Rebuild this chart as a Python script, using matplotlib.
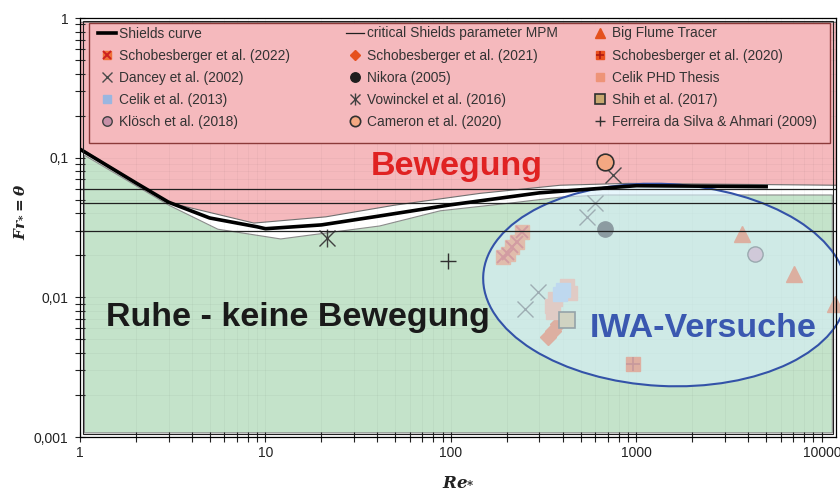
import numpy as np
import matplotlib
matplotlib.use("Agg")
import matplotlib.pyplot as plt
from matplotlib.patches import Ellipse, Rectangle
from matplotlib.legend import Legend
from matplotlib.ticker import LogLocator, NullFormatter

plt.rcParams['font.family'] = ['Liberation Sans', 'DejaVu Sans']
plt.rcParams['mathtext.fontset'] = 'custom'
plt.rcParams['mathtext.it'] = 'DejaVu Serif:italic:bold'
plt.rcParams['mathtext.rm'] = 'DejaVu Serif:bold'
plt.rcParams['mathtext.bf'] = 'DejaVu Serif:italic:bold'

# ---- Shields curve ----
shields_re = [1, 2, 3, 5, 9, 10, 20, 40, 100, 300, 1000, 5000]
shields_theta = [0.115, 0.066, 0.048, 0.037, 0.032, 0.031, 0.033, 0.038, 0.046, 0.056, 0.063, 0.062]

# ---- boundaries of the motion / rest zones ----
motion_re = [1.0, 3, 8.6, 21, 49, 143, 386, 900, 11900]
motion_theta = [0.118, 0.048, 0.0343, 0.038, 0.046, 0.056, 0.064, 0.066, 0.064]
motion_top = 0.94
rest_re = [1.05, 3, 5.5, 12, 41, 87, 216, 386, 650, 11300]
rest_theta = [0.105, 0.046, 0.031, 0.0264, 0.0327, 0.042, 0.048, 0.0526, 0.0545, 0.0545]
rest_bottom = 0.00108

# ---- constant critical values ----
theta_mpm = 0.047
theta_upper = 0.06
theta_lower = 0.03

# ---- measurements ----
bigflume_re = [3700, 7050, 11700]
bigflume_theta = [0.0282, 0.0146, 0.0089]
schob2022_re = [241, 227, 214, 202, 190]
schob2022_theta = [0.0296, 0.0251, 0.0228, 0.0203, 0.0194]
schob2021_re = [333, 355, 377]
schob2021_theta = [0.00518, 0.00572, 0.00641]
schob2020_re = [957]
schob2020_theta = [0.00332]
dancey_re = [747, 598, 541, 294, 250]
dancey_theta = [0.0756, 0.0477, 0.0379, 0.01086, 0.0082]
nikora_re = [677]
nikora_theta = [0.0306]
celikphd_re = [422, 438, 364, 350, 355]
celikphd_theta = [0.0120, 0.0107, 0.00968, 0.00863, 0.00781]
celik2013_re = [387, 400]
celik2013_theta = [0.0105, 0.0112]
vowinckel_re = [21.5]
vowinckel_theta = [0.0268]
shih_re = [422]
shih_theta = [0.00685]
kloesch_re = [4355]
kloesch_theta = [0.0203]
cameron_re = [677]
cameron_theta = [0.0937]
ferreira_re = [96.4]
ferreira_theta = [0.0181]

x_ticks = [1, 10, 100, 1000, 10000]
x_ticklabels = ['1', '10', '100', '1000', '10000']
y_ticks = [0.001, 0.01, 0.1, 1]
y_ticklabels = ['0,001', '0,01', '0,1', '1']

W, H = 840, 490
AX_L, AX_T, AX_W, AX_H = 80, 18, 756, 419
fig = plt.figure(figsize=(W / 100, H / 100), dpi=100)
ax = fig.add_axes([AX_L / W, (H - AX_T - AX_H) / H, AX_W / W, AX_H / H])
ax.set_xscale('log')
ax.set_yscale('log')
ax.set_xlim(1, 11900)
ax.set_ylim(0.001, 1)


def ax_frac(px, py):
    """pixel position (from top-left of the image) -> axes fraction"""
    return (px - AX_L) / AX_W, (AX_T + AX_H - py) / AX_H


# zones
ax.fill_between(motion_re, motion_theta, motion_top, facecolor='#f5b9bd',
                edgecolor='#707070', lw=0.8, zorder=1)
ax.fill_between(rest_re, rest_bottom, rest_theta, facecolor='#c4e3ca',
                edgecolor='#8c8c8c', lw=0.8, zorder=1)

ax.set_axisbelow(False)
ax.grid(which='both', color='k', alpha=0.035, lw=0.6)


def pts(re, th, marker, ms, color, mec=None, mew=1.0, z=3, **kw):
    return ax.plot(re, th, linestyle='none', marker=marker, ms=ms, color=color,
                   mfc=color, mec=mec if mec else color, mew=mew, zorder=z, **kw)[0]


h_flume = pts(bigflume_re, bigflume_theta, '^', 11, '#e4501c', clip_on=False)
h22a = pts(schob2022_re, schob2022_theta, 's', 10, '#f07038')
h22b = pts(schob2022_re, schob2022_theta, 'x', 9, '#cc2020', mew=1.4)
h21 = pts(schob2021_re, schob2021_theta, 'D', 8, '#e6501e')
h20a = pts(schob2020_re, schob2020_theta, 's', 10, '#ea501e')
h20b = pts(schob2020_re, schob2020_theta, '+', 10, '#b01810', mew=1.2)
h_dancey = pts(dancey_re, dancey_theta, 'x', 11, '#4a4a4a', mew=1.0)
h_nikora = pts(nikora_re, nikora_theta, 'o', 11, '#1e1e1e')
h_celikphd = pts(celikphd_re, celikphd_theta, 's', 10, '#ee9478')
h_celik13 = pts(celik2013_re, celik2013_theta, 's', 10, '#9ab6e0')
h_vow_a = pts(vowinckel_re, vowinckel_theta, 'x', 11, '#404040', mew=1.0)
h_vow_b = pts(vowinckel_re, vowinckel_theta, '|', 13, '#404040', mew=1.0)
h_shih = pts(shih_re, shih_theta, 's', 12, '#c8a870', mec='#303030', mew=1.2)
h_kloesch = pts(kloesch_re, kloesch_theta, 'o', 11, '#c890a8', mec='#404040')
h_cameron = pts(cameron_re, cameron_theta, 'o', 12, '#f4a882', mec='#303030', mew=1.2)
h_ferreira = pts(ferreira_re, ferreira_theta, '+', 11, '#303030', mew=1.0)

# highlighted experiment region (translucent fill over the points)
ell_kw = dict(xy=(6.65, 2.05), width=3.64, height=2.02, angle=-3,
              transform=fig.dpi_scale_trans, clip_on=False)
ax.add_patch(Ellipse(**ell_kw, facecolor='#d7f0fa', edgecolor='none', alpha=0.6, zorder=4))
ax.add_patch(Ellipse(**ell_kw, facecolor='none', edgecolor='#3352a8', lw=1.5, zorder=5))

# critical values and Shields curve
for th in (theta_upper, theta_lower):
    ax.axhline(th, color='#202020', lw=0.9, zorder=5)
h_mpm = ax.axhline(theta_mpm, color='#202020', lw=0.9, zorder=5)
h_shields, = ax.plot(shields_re, shields_theta, color='black', lw=2.6, zorder=5,
                     solid_joinstyle='round')

# double frame
for s in ax.spines.values():
    s.set_linewidth(0.9)
    s.set_zorder(6)
ax.add_patch(Rectangle((3 / AX_W, 3 / AX_H), 1 - 6 / AX_W, 1 - 6 / AX_H, transform=ax.transAxes,
                       fill=False, edgecolor='#202020', lw=0.8, zorder=6))

ax.set_xticks(x_ticks, x_ticklabels)
ax.set_yticks(y_ticks, y_ticklabels)
ax.xaxis.set_minor_locator(LogLocator(base=10, subs=np.arange(2, 10)))
ax.yaxis.set_minor_locator(LogLocator(base=10, subs=np.arange(2, 10)))
ax.xaxis.set_minor_formatter(NullFormatter())
ax.yaxis.set_minor_formatter(NullFormatter())
ax.tick_params(which='both', direction='inout', length=7, width=0.8, colors='#222222',
               labelsize=10)
ax.tick_params(axis='x', pad=3)
ax.tick_params(axis='y', pad=5)

# legend box with three columns
fx, fy = ax_frac(89, 143)
ax.add_patch(Rectangle((fx, fy), 741 / AX_W, 120 / AX_H, transform=ax.transAxes,
                       facecolor='#f5b9bd', edgecolor='#8c3a3a', lw=1.0, zorder=7))

columns = [
    ([h_shields, (h22a, h22b), h_dancey, h_celik13, h_kloesch],
     ['Shields curve', 'Schobesberger et al. (2022)', 'Dancey et al. (2002)',
      'Celik et al. (2013)', 'Klösch et al. (2018)'], 98),
    ([h_mpm, h21, h_nikora, (h_vow_a, h_vow_b), h_cameron],
     ['critical Shields parameter MPM', 'Schobesberger et al. (2021)', 'Nikora (2005)',
      'Vowinckel et al. (2016)', 'Cameron et al. (2020)'], 346),
    ([h_flume, (h20a, h20b), h_celikphd, h_shih, h_ferreira],
     ['Big Flume Tracer', 'Schobesberger et al. (2020)', 'Celik PHD Thesis',
      'Shih et al. (2017)', 'Ferreira da Silva & Ahmari (2009)'], 591),
]
for hs, ls, x0 in columns:
    lx, ly = ax_frac(x0, 26.5)
    leg = Legend(ax, hs, ls, loc='upper left', bbox_to_anchor=(lx, ly),
                 borderaxespad=0, borderpad=0, fontsize=9.9, markerscale=0.62,
                 handlelength=1.3, handletextpad=0.25, labelspacing=0.585,
                 frameon=False)
    leg.set_zorder(8)
    for t in leg.get_texts():
        t.set_color('#333333')
    ax.add_artist(leg)

# zone labels
fig.text(457 / W, 1 - 175 / H, 'Bewegung', color='#e02222', fontsize=24.5,
         fontweight='bold', ha='center', va='baseline', zorder=9)
fig.text(298 / W, 1 - 326 / H, 'Ruhe - keine Bewegung', color='#1a1a1a', fontsize=24.5,
         fontweight='bold', ha='center', va='baseline', zorder=9)
fig.text(703 / W, 1 - 337 / H, 'IWA-Versuche', color='#3a58b0', fontsize=24.5,
         fontweight='bold', ha='center', va='baseline', zorder=9)

# axis titles
fig.text(19 / W, 1 - 212 / H, r'$Fr_{*} = \theta$', rotation=90, fontsize=11,
         ha='center', va='center', color='#222222')
fig.text(458 / W, 1 - 481 / H, r'$Re_{*}$', fontsize=12, ha='center', va='center',
         color='#222222')

fig.savefig('out.png', dpi=100)
